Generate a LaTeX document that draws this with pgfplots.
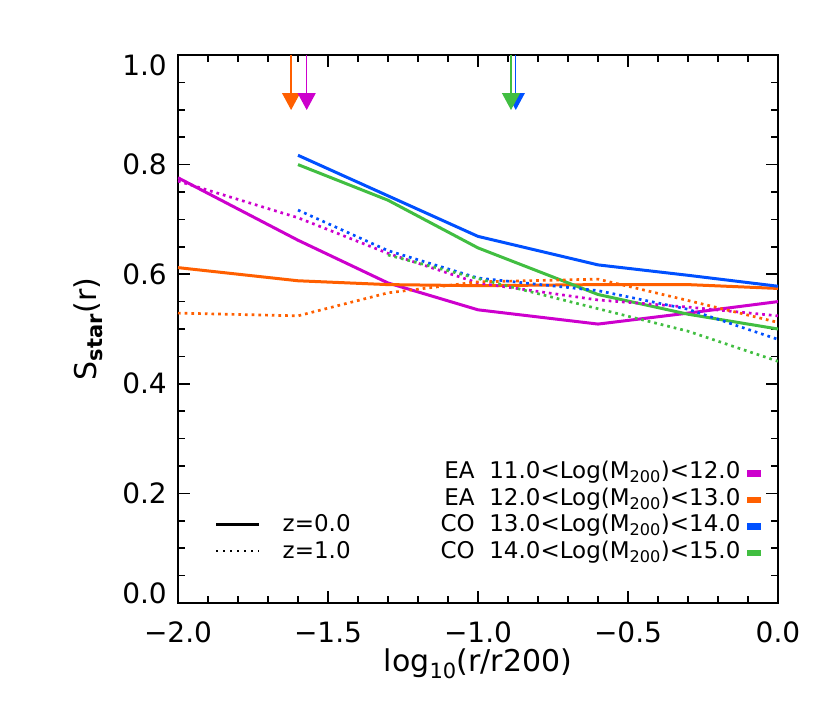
\documentclass[border=0pt]{standalone}
\usepackage{pgfplots}
\pgfplotsset{compat=1.18}
\usepackage{fontspec}
\setmainfont{DejaVu Sans}
\usetikzlibrary{arrows.meta}
\definecolor{cMag}{RGB}{205,0,205}
\definecolor{cOra}{RGB}{255,95,0}
\definecolor{cBlu}{RGB}{0,80,255}
\definecolor{cGre}{RGB}{65,190,65}
\newcommand{\tf}{\fontsize{28}{32}\selectfont}
\newcommand{\af}{\fontsize{30}{34}\selectfont}
\newcommand{\lf}{\fontsize{23}{26}\selectfont}
\begin{document}
\begin{tikzpicture}
\begin{axis}[
  at={(0,0)}, anchor=south west,
  scale only axis, width=600pt, height=548pt,
  xmin=-2, xmax=0, ymin=0, ymax=1,
  xtick={-2,-1.5,-1,-0.5,0},
  xticklabels={−2.0,−1.5,−1.0,−0.5,0.0},
  ytick={0,0.2,0.4,0.6,0.8,1},
  yticklabels={\smash{0.0},0.2,0.4,0.6,0.8,\smash{\raisebox{-0.73em}{1.0}}},
  minor x tick num=4, minor y tick num=3,
  tick pos=both, tick align=inside,
  major tick length=12pt, minor tick length=7pt,
  tick style={black, line width=1.5pt},
  axis line style={line width=2pt},
  xticklabel style={font=\tf, inner sep=0pt, anchor=north, yshift=-19pt},
  yticklabel style={font=\tf, inner sep=0pt, anchor=east, xshift=-11pt},
  xlabel={log\textsubscript{10}(r/r200)},
  ylabel={S\textsubscript{\textbf{star}}(r)},
  every axis x label/.style={font=\af, inner sep=0pt, at={(axis description cs:0.5,-0.083)}, anchor=north},
  every axis y label/.style={font=\af, at={(axis description cs:-0.15,0.5)}, anchor=center, rotate=90},
  legend plot pos=right,
  legend image code/.code={\fill[#1] (0pt,-2.5pt) rectangle (13pt,3pt);},
  legend style={at={(0.9717,0.070)}, anchor=south east, draw=none, fill=none,
    inner sep=0pt, row sep=3.5pt,
    nodes={inner sep=0pt, text height=17pt, text depth=6pt, font=\lf},
    cells={anchor=east},
    /tikz/every odd column/.append style={column sep=7pt}},
]
% z = 0.0 (solid)
\addplot[forget plot, cMag, line width=3pt] coordinates {(-2,0.776) (-1.6,0.662) (-1.3,0.584) (-1,0.535) (-0.6,0.509) (-0.3,0.529) (0,0.550)};
\addplot[forget plot, cOra, line width=3pt] coordinates {(-2,0.612) (-1.6,0.588) (-1.3,0.581) (-1,0.579) (-0.6,0.581) (-0.3,0.581) (0,0.574)};
\addplot[forget plot, cBlu, line width=3pt] coordinates {(-1.6,0.817) (-1.3,0.743) (-1,0.669) (-0.6,0.617) (-0.3,0.598) (0,0.578)};
\addplot[forget plot, cGre, line width=3pt] coordinates {(-1.6,0.800) (-1.3,0.735) (-1,0.648) (-0.6,0.563) (-0.3,0.527) (0,0.500)};
% z = 1.0 (dotted)
\addplot[forget plot, cMag, line width=2.7pt, dash pattern=on 2.7pt off 4pt] coordinates {(-2,0.770) (-1.6,0.703) (-1.3,0.638) (-1,0.584) (-0.6,0.553) (-0.3,0.540) (0,0.524)};
\addplot[forget plot, cOra, line width=2.7pt, dash pattern=on 2.7pt off 4pt] coordinates {(-2,0.529) (-1.6,0.524) (-1.3,0.566) (-1,0.586) (-0.6,0.591) (-0.3,0.552) (0,0.512)};
\addplot[forget plot, cBlu, line width=2.7pt, dash pattern=on 2.7pt off 4pt] coordinates {(-1.6,0.717) (-1.3,0.643) (-1,0.593) (-0.6,0.570) (-0.3,0.536) (0,0.481)};
\addplot[forget plot, cGre, line width=2.7pt, dash pattern=on 2.7pt off 4pt] coordinates {(-1.3,0.635) (-1,0.592) (-0.6,0.537) (-0.3,0.496) (0,0.441)};
% arrows
\addplot[forget plot, cOra, line width=1.3pt, -{Triangle[width=18pt,length=17pt]}] coordinates {(-1.623,1) (-1.623,0.8996)};
\addplot[forget plot, cMag, line width=1.3pt, -{Triangle[width=18pt,length=17pt]}] coordinates {(-1.571,1) (-1.571,0.8996)};
\addplot[forget plot, cBlu, line width=1.3pt, -{Triangle[width=18pt,length=17pt]}] coordinates {(-0.874,1) (-0.874,0.8996)};
\addplot[forget plot, cGre, line width=1.3pt, -{Triangle[width=18pt,length=17pt]}] coordinates {(-0.890,1) (-0.890,0.8996)};
% legend
\addlegendimage{cMag}\addlegendentry{EA\ \ 11.0<Log(M\textsubscript{200})<12.0}
\addlegendimage{cOra}\addlegendentry{EA\ \ 12.0<Log(M\textsubscript{200})<13.0}
\addlegendimage{cBlu}\addlegendentry{CO\ \ 13.0<Log(M\textsubscript{200})<14.0}
\addlegendimage{cGre}\addlegendentry{CO\ \ 14.0<Log(M\textsubscript{200})<15.0}
\end{axis}
\begin{axis}[
  at={(0,0)}, anchor=south west,
  scale only axis, width=600pt, height=548pt,
  xmin=-2, xmax=0, ymin=0, ymax=1, hide axis,
  legend image code/.code={\draw[#1] (0pt,2pt) -- (43pt,2pt);},
  legend style={at={(0.0617,0.070)}, anchor=south west, draw=none, fill=none,
    inner sep=0pt, row sep=3.5pt,
    nodes={inner sep=0pt, text height=17pt, text depth=6pt, font=\lf},
    cells={anchor=west},
    /tikz/every odd column/.append style={column sep=22pt}},
]
\addlegendimage{black, line width=2.5pt}\addlegendentry{z=0.0}
\addlegendimage{black, line width=2pt, dash pattern=on 2pt off 5pt}\addlegendentry{z=1.0}
\end{axis}
\useasboundingbox (-178pt,-115pt) rectangle (652pt,603pt);
\end{tikzpicture}
\end{document}
